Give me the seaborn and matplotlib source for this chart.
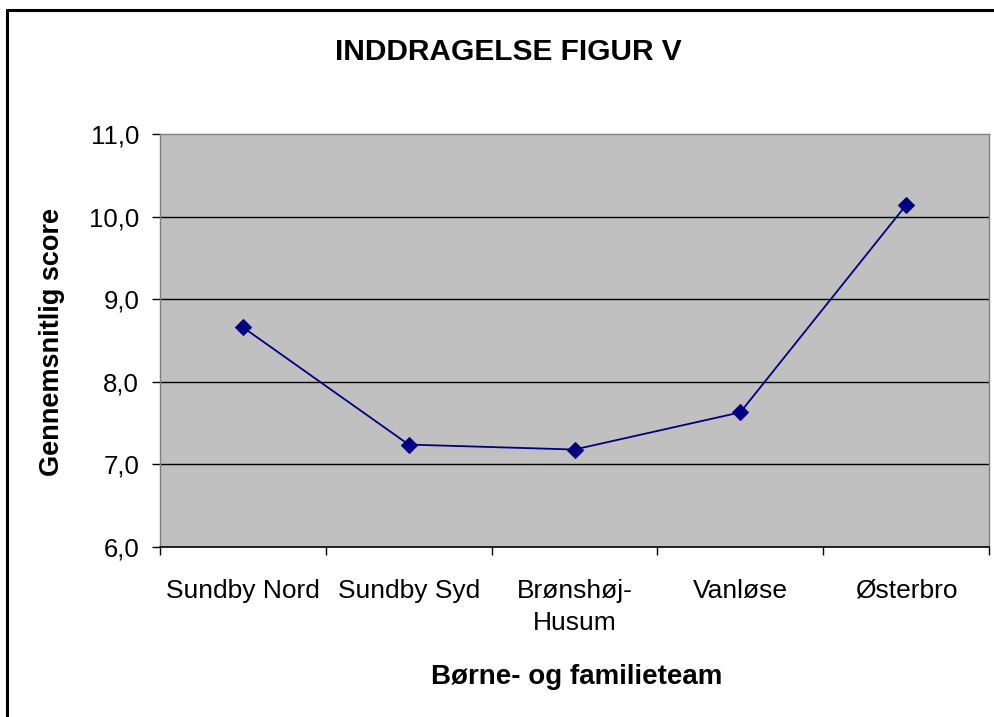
import matplotlib
matplotlib.use("Agg")
import matplotlib.pyplot as plt
from matplotlib.lines import Line2D
from matplotlib.ticker import FixedLocator, FuncFormatter
import seaborn as sns
import pandas as pd

teams = ["Sundby Nord", "Sundby Syd", "Brønshøj-\nHusum", "Vanløse", "Østerbro"]
scores = [8.66, 7.24, 7.18, 7.63, 10.14]
y_ticks = [6.0, 7.0, 8.0, 9.0, 10.0, 11.0]

title = "INDDRAGELSE FIGUR V"
x_label = "Børne- og familieteam"
y_label = "Gennemsnitlig score"

sns.set_style("white")
plt.rcParams["font.family"] = ["Liberation Sans", "DejaVu Sans"]
plt.rcParams["text.color"] = "black"
plt.rcParams["xtick.color"] = "black"
plt.rcParams["ytick.color"] = "black"
plt.rcParams["xtick.labelcolor"] = "black"
plt.rcParams["ytick.labelcolor"] = "black"

W, H = 994, 717
fig = plt.figure(figsize=(W / 100, H / 100), dpi=100)
ax = fig.add_axes([160 / W, 1 - 547 / H, (989 - 160) / W, (547 - 134) / H])
ax.set_facecolor("#C0C0C0")

df = pd.DataFrame({"team": teams, "score": scores, "pos": range(len(teams))})
sns.lineplot(data=df, x="pos", y="score", sort=False, marker="D", markersize=8,
             color="#000080", linewidth=1.3, markeredgecolor="#000080", ax=ax, zorder=3)

ax.set_xlim(-0.5, len(teams) - 0.5)
ax.set_ylim(y_ticks[0], y_ticks[-1])
ax.set_yticks(y_ticks)
ax.yaxis.set_major_formatter(FuncFormatter(lambda v, p: f"{v:.1f}".replace(".", ",")))
for v in y_ticks[1:-1]:
    ax.axhline(v, color="#000000", linewidth=1.0, zorder=1)

ax.set_xticks(list(range(len(teams))))
ax.set_xticklabels(teams, fontsize=19, linespacing=1.45)
ax.xaxis.set_minor_locator(FixedLocator([i - 0.5 for i in range(len(teams) + 1)]))
ax.tick_params(axis="x", which="major", length=0, pad=23)
ax.tick_params(axis="x", which="minor", length=6, width=1, color="black", direction="out", bottom=True)
ax.tick_params(axis="y", which="major", length=6, width=1, color="black", direction="out",
               left=True, pad=9, labelsize=18.5)

for s in ["left", "top", "right"]:
    ax.spines[s].set_color("#808080")
    ax.spines[s].set_linewidth(1.0)
ax.spines["bottom"].set_color("black")
ax.spines["bottom"].set_linewidth(1.2)

ax.set_xlabel("")
ax.set_ylabel("")
fig.text(577 / W, 1 - 677 / H, x_label, ha="center", va="center", fontsize=20,
         fontweight="bold", color="black")
fig.text(52 / W, 1 - 342 / H, y_label, ha="center", va="center", rotation=90,
         fontsize=19.5, fontweight="bold", color="black")
fig.text(508 / W, 1 - 52 / H, title, ha="center", va="center", fontsize=21.5,
         fontweight="bold", color="black")

# outer chart frame (left and top edges visible)
fig.add_artist(Line2D([7 / W, 7 / W], [0, 1 - 10 / H], color="black", linewidth=2.2,
                      transform=fig.transFigure))
fig.add_artist(Line2D([7 / W, 1], [1 - 10 / H, 1 - 10 / H], color="black", linewidth=2.2,
                      transform=fig.transFigure))

fig.savefig("out.png", dpi=100)
